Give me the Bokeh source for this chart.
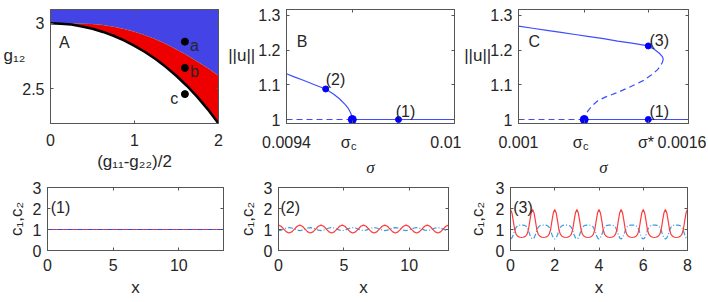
import numpy as np
from bokeh.plotting import figure
from bokeh.models import Range1d, FixedTicker, LinearAxis, Label
from bokeh.layouts import column, row
from bokeh.embed import file_html
from bokeh.resources import INLINE

# ---------------- data ----------------
# Panel A: phase diagram
A_x     = [0, 0.125, 0.25, 0.375, 0.5, 0.625, 0.75, 0.875, 1.0, 1.125, 1.25, 1.375, 1.5, 1.625, 1.75, 1.875, 2.0]
A_lower = [3.0, 2.997, 2.990, 2.976, 2.958, 2.934, 2.905, 2.870, 2.828, 2.781, 2.727, 2.666, 2.598, 2.522, 2.437, 2.342, 2.236]
A_upper = [3.0, 3.0, 2.999, 2.997, 2.994, 2.986, 2.974, 2.957, 2.935, 2.909, 2.878, 2.842, 2.800, 2.757, 2.707, 2.657, 2.600]
A_pts_x = [1.6, 1.6, 1.6]
A_pts_y = [2.86, 2.66, 2.46]
A_xticks = [0, 1, 2]
A_yticks = [2.5, 3]

# Panel B: supercritical branch
B_sigma_c = 0.009635
B_branch_sigma = [0.0094, 0.00943, 0.00946, 0.0095, 0.00954, 0.00957, 0.00959, 0.00961, 0.00962, 0.009628, 0.009632, 0.009635]
B_branch_u     = [1.132, 1.122, 1.113, 1.100, 1.088, 1.072, 1.059, 1.043, 1.033, 1.021, 1.013, 1.0]
B_pt_sigma = [0.00954, 0.0098]
B_pt_u     = [1.088, 1.0]
B_xticks = [0.0094, B_sigma_c, 0.01]

# Panel C: subcritical branch
C_sigma_c = 0.001232
C_sigma_star = 0.001458
C_stable_sigma = [0.001, 0.00105, 0.0011, 0.00115, 0.0012, 0.00125, 0.0013, 0.00135, 0.0014, 0.001458, 0.00148, 0.001497, 0.001507, 0.001511]
C_stable_u     = [1.269, 1.263, 1.257, 1.251, 1.245, 1.239, 1.233, 1.226, 1.220, 1.212, 1.202, 1.191, 1.182, 1.175]
C_unstable_sigma = [0.001511, 0.001508, 0.001500, 0.00149, 0.00147, 0.00144, 0.00141, 0.00138, 0.00135, 0.00131, 0.00128, 0.001263, 0.00125, 0.00124, 0.001234, 0.001232]
C_unstable_u     = [1.175, 1.165, 1.153, 1.143, 1.129, 1.112, 1.100, 1.089, 1.078, 1.066, 1.054, 1.042, 1.030, 1.019, 1.008, 1.0]
C_pt_sigma = [C_sigma_star, C_sigma_star]
C_pt_u     = [1.212, 1.0]
C_xticks = [0.001, C_sigma_c, C_sigma_star, 0.0016]

UU_yticks = [1, 1.1, 1.2, 1.3]

# Bottom panels: profiles c1 (red) and c2 (blue)
S1_x  = [0, 13.4]
S1_c1 = [1.0, 1.0]
S1_c2 = [1.0, 1.0]
S1_xmax = 13.4

S2_xmax = 13.0
S2_nper = 8
S2_c1_period = [1.21, 1.155, 1.02, 0.885, 0.83, 0.885, 1.02, 1.155]
S2_c2_period = [0.95, 0.97, 1.02, 1.07, 1.09, 1.07, 1.02, 0.97]

S3_xmax = 8.0
S3_nper = 8
S3_c1_period = [1.95, 1.80, 1.42, 1.00, 0.78, 0.69, 0.65, 0.63, 0.62, 0.63, 0.65, 0.69, 0.78, 1.00, 1.42, 1.80]
S3_c2_period = [0.55, 0.60, 0.75, 0.95, 1.10, 1.17, 1.20, 1.21, 1.21, 1.21, 1.20, 1.17, 1.10, 0.95, 0.75, 0.60]

S_yticks = [0, 1, 2, 3]

# ---------------- styling ----------------
FONT = "Liberation Sans"
SERIF = "Liberation Serif"
AX = "#555555"
TXT = "#262626"
TICK_FS = "16px"
LAB_FS = "17px"
NB = "\u00a0"


def periodic(profile, nper, xmax):
    vals = list(profile) * nper + [profile[0]]
    xs = np.linspace(0, xmax, len(vals))
    return xs, vals


def make(fw, fh, xr, yr, bl, br, bt, bb, xt, yt, xo, yo, xstand):
    p = figure(frame_width=fw, frame_height=fh, x_range=Range1d(*xr), y_range=Range1d(*yr),
               output_backend="svg", toolbar_location=None,
               min_border_left=bl, min_border_right=br, min_border_top=bt, min_border_bottom=bb)
    p.grid.visible = False
    p.outline_line_color = AX
    p.background_fill_color = "white"
    p.border_fill_color = "white"
    xa = p.xaxis[0]
    ya = p.yaxis[0]
    xa.ticker = FixedTicker(ticks=xt)
    ya.ticker = FixedTicker(ticks=yt)
    xa.major_label_overrides = xo
    ya.major_label_overrides = yo
    for ax in (xa, ya):
        ax.axis_line_color = AX
        ax.major_tick_line_color = AX
        ax.major_tick_in = 3
        ax.major_tick_out = 0
        ax.minor_tick_in = 0
        ax.minor_tick_out = 0
        ax.minor_tick_line_color = None
        ax.major_label_text_font = FONT
        ax.major_label_text_font_size = TICK_FS
        ax.major_label_text_color = TXT
        ax.axis_label_text_font = FONT
        ax.axis_label_text_font_size = LAB_FS
        ax.axis_label_text_font_style = "normal"
        ax.axis_label_text_color = TXT
    xa.major_label_standoff = xstand
    ya.major_label_standoff = 6
    for loc, tk in (("above", xt), ("right", yt)):
        ax = LinearAxis(ticker=FixedTicker(ticks=tk), major_label_text_font_size="1px",
                        major_label_text_color=None,
                        major_label_standoff=0, major_tick_in=3, major_tick_out=0,
                        minor_tick_in=0, minor_tick_out=0,
                        minor_tick_line_color=None, axis_line_color=AX, major_tick_line_color=AX)
        p.add_layout(ax, loc)
    return p, xa, ya


def lab(p, x, y, text, size=16, align="left", base="alphabetic"):
    # in-frame annotation, data coordinates
    p.add_layout(Label(x=x, y=y, text=text, text_font=FONT, text_font_size=f"{size}px",
                       text_align=align, text_baseline=base, text_color=TXT))


def sub_axis(p, ticks, overrides, standoff, title_standoff):
    # extra below-axis: the subscript "c" of sigma_c (pulled up under the tick row) and the sigma title
    ax = LinearAxis(ticker=FixedTicker(ticks=ticks), major_label_overrides=overrides,
                    major_label_text_font=FONT, major_label_text_font_size="11px",
                    major_label_text_color=TXT, major_label_standoff=standoff,
                    major_tick_in=0, major_tick_out=0, minor_tick_in=0, minor_tick_out=0,
                    major_tick_line_color=None, minor_tick_line_color=None, axis_line_color=None,
                    axis_label="σ", axis_label_text_font=SERIF, axis_label_text_font_style="italic",
                    axis_label_text_font_size=LAB_FS, axis_label_text_color=TXT,
                    axis_label_standoff=title_standoff)
    p.add_layout(ax, "below")


# ---------------- Panel A ----------------
TOP_FH, TOP_BT, TOP_BB = 114, 9, 54
pA, ax_, ay_ = make(168, TOP_FH, (0, 2), (2.236, 3.105), 50, 7, TOP_BT, TOP_BB, A_xticks, A_yticks,
                    {0: "0", 1: "1", 2: "2"}, {2.5: "2.5", 3: "3"}, 10)
pA.varea(x=A_x, y1=A_upper, y2=[3.105] * len(A_x), fill_color="#4343e6")
pA.varea(x=A_x, y1=A_lower, y2=A_upper, fill_color="#ee0000")
pA.line(A_x, A_upper, line_color="#777777", line_dash="1 2", line_width=1)
pA.line(A_x, A_lower, line_color="black", line_width=2.5)
pA.scatter(A_pts_x, A_pts_y, size=7, color="black")
lab(pA, 0.1, 2.85, "A")
lab(pA, 1.66, 2.83, "a")
lab(pA, 1.66, 2.63, "b")
lab(pA, 1.52, 2.43, "c", align="right")
ay_.axis_label = "g₁₂\n" + NB
ay_.axis_label_orientation = "horizontal"
ay_.axis_label_standoff = -6
ax_.axis_label = "(g₁₁-g₂₂)/2"
ax_.axis_label_standoff = 3

# ---------------- Panel B ----------------
pB, bx_, by_ = make(168, TOP_FH, (0.0094, 0.01), (0.9885, 1.317), 56, 7, TOP_BT, TOP_BB, B_xticks, UU_yticks,
                    {0.0094: "0.0094", B_sigma_c: "σ" + NB * 3, 0.01: "0.01"},
                    {1: "1", 1.1: "1.1", 1.2: "1.2", 1.3: "1.3"}, 10)
BLUE = "#3d4dff"
pB.line([0.0094, B_sigma_c], [1.0, 1.0], line_color=BLUE, line_width=1.2, line_dash="6 4")
pB.line([B_sigma_c, 0.01], [1.0, 1.0], line_color=BLUE, line_width=1.2)
pB.line(B_branch_sigma, B_branch_u, line_color=BLUE, line_width=1.2)
pB.scatter(B_pt_sigma, B_pt_u, size=6, color="#0000ff")
pB.scatter([B_sigma_c], [1.0], size=8, color="#0000ff")
lab(pB, 0.009437, 1.225, "B")
lab(pB, 0.009540, 1.116, "(2)")
lab(pB, 0.009790, 1.022, "(1)")
by_.axis_label = "||u||\n" + NB
by_.axis_label_orientation = "horizontal"
by_.axis_label_standoff = 0
B_c_tick = 0.00964
sub_axis(pB, [B_c_tick], {B_c_tick: "c"}, -14, 3)

# ---------------- Panel C ----------------
pC, cx_, cy_ = make(170, TOP_FH, (0.001, 0.0016), (0.9885, 1.317), 56, 18, TOP_BT, TOP_BB, C_xticks, UU_yticks,
                    {0.001: "0.001", C_sigma_c: "σ" + NB * 3, C_sigma_star: "σ*" + NB, 0.0016: "0.0016"},
                    {1: "1", 1.1: "1.1", 1.2: "1.2", 1.3: "1.3"}, 10)
pC.line([0.001, C_sigma_c], [1.0, 1.0], line_color=BLUE, line_width=1.2, line_dash="6 4")
pC.line([C_sigma_c, 0.0016], [1.0, 1.0], line_color=BLUE, line_width=1.2)
pC.line(C_stable_sigma, C_stable_u, line_color=BLUE, line_width=1.2)
pC.line(C_unstable_sigma, C_unstable_u, line_color=BLUE, line_width=1.2, line_dash="6 4")
pC.scatter(C_pt_sigma, C_pt_u, size=6, color="#0000ff")
pC.scatter([C_sigma_c], [1.0], size=8, color="#0000ff")
lab(pC, 0.001035, 1.225, "C")
lab(pC, 0.001462, 1.229, "(3)")
lab(pC, 0.001462, 1.022, "(1)")
cy_.axis_label = "||u||\n" + NB
cy_.axis_label_orientation = "horizontal"
cy_.axis_label_standoff = -4
C_c_tick = 0.001237
sub_axis(pC, [C_c_tick], {C_c_tick: "c"}, -14, 3)

# ---------------- Bottom panels ----------------
BOT_FH, BOT_BT, BOT_BB = 63, 8, 54
RED = "#ff3b3b"
LBLUE = "#3d9be0"
yo_s = {0: "0", 1: "1", 2: "2", 3: "3"}

p1, x1_, y1_ = make(176, BOT_FH, (0, S1_xmax), (0, 3), 47, 10, BOT_BT, BOT_BB, [0, 5, 10], S_yticks,
                    {0: "0", 5: "5", 10: "10"}, yo_s, 8)
p1.line(S1_x, S1_c1, line_color=RED, line_width=1.2)
p1.line(S1_x, S1_c2, line_color="#2f45ee", line_width=1.2, line_dash="5 2 1 2")
lab(p1, 0.25, 2.05, "(1)")

p2, x2_, y2_ = make(170, BOT_FH, (0, S2_xmax), (0, 3), 45, 10, BOT_BT, BOT_BB, [0, 5, 10], S_yticks,
                    {0: "0", 5: "5", 10: "10"}, yo_s, 8)
x2, c1_2 = periodic(S2_c1_period, S2_nper, S2_xmax)
_, c2_2 = periodic(S2_c2_period, S2_nper, S2_xmax)
p2.line(x2, c2_2, line_color=LBLUE, line_width=1.2, line_dash="5 2 1 2")
p2.line(x2, c1_2, line_color=RED, line_width=1.2)
lab(p2, 0.15, 2.05, "(2)")

p3, x3_, y3_ = make(177, BOT_FH, (0, S3_xmax), (0, 3), 52, 12, BOT_BT, BOT_BB, [0, 2, 4, 6, 8], S_yticks,
                    {0: "0", 2: "2", 4: "4", 6: "6", 8: "8"}, yo_s, 8)
x3, c1_3 = periodic(S3_c1_period, S3_nper, S3_xmax)
_, c2_3 = periodic(S3_c2_period, S3_nper, S3_xmax)
p3.line(x3, c2_3, line_color=LBLUE, line_width=1.2, line_dash="5 2 1 2")
p3.line(x3, c1_3, line_color=RED, line_width=1.2)
lab(p3, 0.12, 2.05, "(3)")

for xa, ya, st in ((x1_, y1_, 4), (x2_, y2_, 4), (x3_, y3_, 6)):
    ya.axis_label = "c₁,c₂"
    ya.axis_label_standoff = st
    xa.axis_label = "x"
    xa.axis_label_standoff = 4

layout = column(row(pA, pB, pC), row(p1, p2, p3))
open("out.html", "w").write(file_html(layout, INLINE))
